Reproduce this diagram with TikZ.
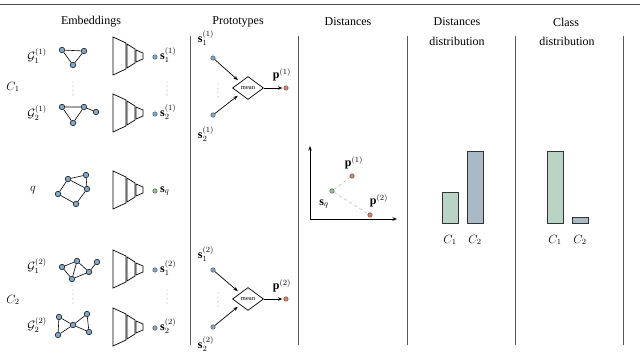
\documentclass[tikz,border=0pt]{standalone}
\usepackage{fontspec}
\setmainfont{Liberation Serif}
\usetikzlibrary{arrows.meta,shapes.geometric}
\definecolor{nodeblue}{HTML}{7FA8C9}
\definecolor{dotgreen}{HTML}{8CC48C}
\definecolor{dotorange}{HTML}{E0805A}
\definecolor{bargreen}{HTML}{B9D3C5}
\definecolor{barblue}{HTML}{A9BAC6}
\definecolor{vdots}{HTML}{9DBCD6}
\tikzset{
  gnode/.style={circle, draw=black, fill=nodeblue, inner sep=0pt, minimum size=5.5pt, line width=0.5pt},
  gedge/.style={line width=0.6pt},
  embdot/.style={circle, draw=black!70, fill=nodeblue, inner sep=0pt, minimum size=4.5pt, line width=0.4pt},
  qdot/.style={embdot, fill=dotgreen},
  pdot/.style={embdot, fill=dotorange},
  colline/.style={draw=black!65, line width=0.9pt},
  header/.style={align=center, inner sep=0pt},
  lbl/.style={inner sep=0pt},
  arr/.style={-{Stealth[length=4.5pt,width=3.5pt]}, line width=0.7pt},
  meanbox/.style={diamond, draw, line width=0.7pt, minimum width=31pt, minimum height=23pt, inner sep=0pt, font=\fontsize{6.5}{7}\selectfont},
  bar/.style={draw=black!80, line width=1pt},
  vdot/.style={circle, fill=vdots, inner sep=0pt, minimum size=1.3pt},
  encoder/.pic={
    \draw[line width=0.7pt] (0,-19) -- (13,-13) -- (13,13) -- (0,19) -- cycle;
    \draw[line width=0.7pt] (14,-12) -- (22,-7) -- (22,7) -- (14,12) -- cycle;
    \draw[line width=0.7pt] (23,-6) -- (30,-3) -- (30,3) -- (23,6) -- cycle;
  }
}
\begin{document}
\begin{tikzpicture}[x=1pt,y=-1pt, font=\fontsize{12}{14}\selectfont]
\useasboundingbox (0,0) rectangle (640,363);

% top rule
\coordinate (ruleL) at (0,5);
\coordinate (ruleR) at (640,5);
\draw[draw=black!70, line width=1pt] (ruleL) -- (ruleR);

% headers
\node[header] (hEmb) at (91,22) {Embeddings};
\node[header] (hProt) at (238,22) {Prototypes};
\node[header] (hDist) at (348,22) {Distances};
\node[header] (hDD1) at (457,22) {Distances};
\node[header] (hDD2) at (457,41) {distribution};
\node[header] (hCD1) at (566,22) {Class};
\node[header] (hCD2) at (567,41) {distribution};

% column separators
\foreach \x/\n in {190/a,298/b,407/c,515/d,623/e}{
  \coordinate (sep\n t) at (\x,36);
  \coordinate (sep\n b) at (\x,345);
  \draw[colline] (sep\n t) -- (sep\n b);
}

% class labels
\node[lbl] (C1) at (13,87) {$C_1$};
\node[lbl] (C2) at (13,300) {$C_2$};
\node[lbl] (G11) at (37,56) {$\mathcal{G}_1^{(1)}$};
\node[lbl] (G21) at (37,113) {$\mathcal{G}_2^{(1)}$};
\node[lbl] (q) at (33,190) {$q$};
\node[lbl] (G12) at (37,266) {$\mathcal{G}_1^{(2)}$};
\node[lbl] (G22) at (37,325) {$\mathcal{G}_2^{(2)}$};

% graph 1
\node[gnode] (a1) at (62,50) {};
\node[gnode] (a2) at (84,51) {};
\node[gnode] (a3) at (73,65) {};
\draw[gedge] (a1) -- (a2) -- (a3) -- (a1);

% graph 2
\node[gnode] (b1) at (62,107) {};
\node[gnode] (b2) at (84,107) {};
\node[gnode] (b3) at (96,112) {};
\node[gnode] (b4) at (73,123) {};
\draw[gedge] (b1) -- (b2) -- (b4) -- (b1);
\draw[gedge] (b2) -- (b3);

% query graph
\node[gnode] (q1) at (68,179) {};
\node[gnode] (q2) at (86,175) {};
\node[gnode] (q3) at (87,189) {};
\node[gnode] (q4) at (58,194) {};
\node[gnode] (q5) at (76,204) {};
\draw[gedge] (q1) -- (q2) -- (q3) -- (q5) -- (q4) -- (q1);
\draw[gedge] (q1) -- (q3);

% graph 3
\node[gnode] (c1) at (62,267) {};
\node[gnode] (c2) at (77,261) {};
\node[gnode] (c3) at (97,262) {};
\node[gnode] (c4) at (89,272) {};
\node[gnode] (c5) at (72,279) {};
\draw[gedge] (c1) -- (c2) -- (c5) -- (c1);
\draw[gedge] (c2) -- (c4) -- (c5);
\draw[gedge] (c4) -- (c3);

% graph 4 (bowtie)
\node[gnode] (d1) at (59,317) {};
\node[gnode] (d2) at (58,335) {};
\node[gnode] (d3) at (73,325) {};
\node[gnode] (d4) at (87,314) {};
\node[gnode] (d5) at (89,332) {};
\draw[gedge] (d1) -- (d3) -- (d2) -- (d1);
\draw[gedge] (d4) -- (d3) -- (d5) -- (d4);

% encoders
\foreach \y in {56,113,190,269,327}{
  \pic at (113,\y) {encoder};
}

% embedding dots
\node[embdot] (s11) at (155,57) {};
\node[embdot] (s21) at (155,114) {};
\node[qdot] (sq) at (155,191) {};
\node[embdot] (s12) at (155,270) {};
\node[embdot] (s22) at (155,328) {};
\node[lbl, anchor=west] (s11l) at (160,55) {$\mathbf{s}_1^{(1)}$};
\node[lbl, anchor=west] (s21l) at (160,112) {$\mathbf{s}_2^{(1)}$};
\node[lbl, anchor=west] (sql) at (160,191) {$\mathbf{s}_q$};
\node[lbl, anchor=west] (s12l) at (160,268) {$\mathbf{s}_1^{(2)}$};
\node[lbl, anchor=west] (s22l) at (160,326) {$\mathbf{s}_2^{(2)}$};

% vertical ellipses
\foreach \x/\ya in {73/82,167/82,73/290,167/290,218/84,218/293}{
  \foreach \k in {0,1,2,3}{
    \node[vdot] at (\x,\ya+\k*4.3) {};
  }
}

% prototypes, class 1
\node[embdot] (ps11) at (213,58) {};
\node[embdot] (ps21) at (213,115) {};
\node[lbl] (ps11l) at (206,38) {$\mathbf{s}_1^{(1)}$};
\node[lbl] (ps21l) at (206,134) {$\mathbf{s}_2^{(1)}$};
\node[meanbox] (mean1) at (248,88) {mean};
\node[pdot] (p1) at (286,88) {};
\node[lbl] (p1l) at (282,75) {$\mathbf{p}^{(1)}$};
\draw[arr, shorten >=3pt] (ps11) -- (mean1.north west);
\draw[arr, shorten >=3pt] (ps21) -- (mean1.south west);
\draw[arr, shorten >=1.2pt] (mean1.east) -- (p1);

% prototypes, class 2
\node[embdot] (ps12) at (213,270) {};
\node[embdot] (ps22) at (213,327) {};
\node[lbl] (ps12l) at (206,254) {$\mathbf{s}_1^{(2)}$};
\node[lbl] (ps22l) at (206,344) {$\mathbf{s}_2^{(2)}$};
\node[meanbox] (mean2) at (248,299) {mean};
\node[pdot] (p2) at (286,299) {};
\node[lbl] (p2l) at (282,286) {$\mathbf{p}^{(2)}$};
\draw[arr, shorten >=3pt] (ps12) -- (mean2.north west);
\draw[arr, shorten >=3pt] (ps22) -- (mean2.south west);
\draw[arr, shorten >=1.2pt] (mean2.east) -- (p2);

% distances plot
\coordinate (orig) at (310,219);
\coordinate (ytop) at (310,146);
\coordinate (xend) at (397,219);
\draw[arr, line width=0.8pt] (orig) -- (ytop);
\draw[arr, line width=0.8pt] (orig) -- (xend);
\node[qdot] (dsq) at (332,191) {};
\node[pdot] (dp1) at (352,176) {};
\node[pdot] (dp2) at (370,215) {};
\draw[dashed, draw=black!30, line width=0.5pt] (dsq) -- (dp1);
\draw[dashed, draw=black!30, line width=0.5pt] (dsq) -- (dp2);
\node[lbl] (dsql) at (324,204) {$\mathbf{s}_q$};
\node[lbl] (dp1l) at (354,163) {$\mathbf{p}^{(1)}$};
\node[lbl] (dp2l) at (379,201) {$\mathbf{p}^{(2)}$};

% distances distribution bars
\draw[bar, fill=bargreen] (442,193) rectangle (458,224);
\draw[bar, fill=barblue] (467,152) rectangle (483,224);
\node[lbl] (dd1) at (450,240) {$C_1$};
\node[lbl] (dd2) at (475,240) {$C_2$};

% class distribution bars
\draw[bar, fill=bargreen] (547,152) rectangle (563,224);
\draw[bar, fill=barblue] (572,218) rectangle (588,224);
\node[lbl] (cd1) at (555,240) {$C_1$};
\node[lbl] (cd2) at (580,240) {$C_2$};
\end{tikzpicture}
\end{document}
